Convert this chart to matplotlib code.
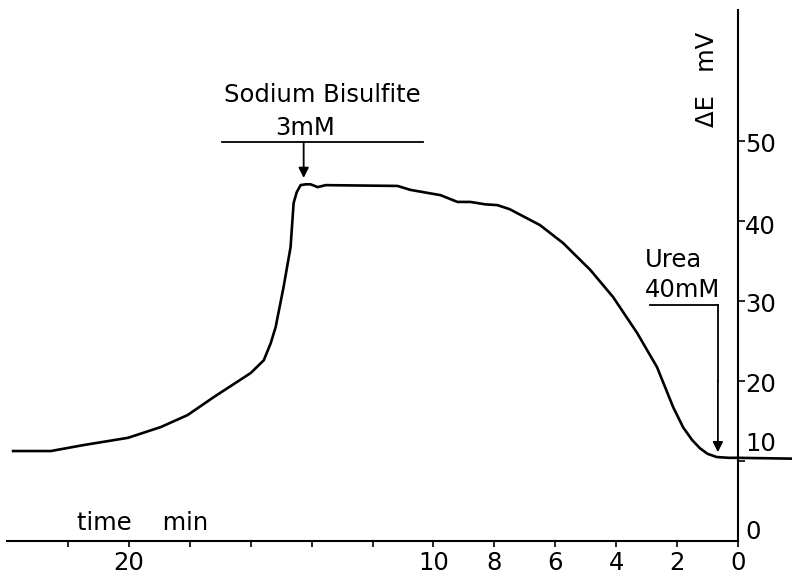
import matplotlib
matplotlib.use('Agg')
import matplotlib.pyplot as plt

# potential change ΔE (mV) against time remaining (min)
time_min = [23.8, 22.56, 21.48, 20.03, 18.95, 18.07, 17.21, 16.0, 15.57,
            15.34, 15.18, 14.92, 14.69, 14.59, 14.49, 14.36, 14.2, 14.03, 13.8,
            13.54, 11.18, 10.75, 9.77, 9.21, 8.79, 8.3, 7.9, 7.5, 6.5, 5.74,
            4.85, 4.1, 3.31, 2.66, 2.13, 1.8, 1.5, 1.25, 1.0, 0.7, 0.3, 0.0, -1.75]
delta_e = [11.25, 11.25, 12.0, 12.9, 14.25, 15.75, 18.0, 21.0, 22.6,
           24.75, 26.75, 31.75, 36.75, 42.25, 43.6, 44.5, 44.6, 44.6, 44.25,
           44.5, 44.4, 43.9, 43.25, 42.4, 42.4, 42.1, 42.0, 41.5, 39.5, 37.25,
           33.9, 30.5, 26.0, 21.75, 16.75, 14.2, 12.6, 11.6, 10.9, 10.5, 10.4, 10.4, 10.3]

xticks = [22, 20, 18, 16, 14, 12, 10, 8, 6, 4, 2, 0]
xtick_labels = ['', '20', '', '', '', '', '10', '8', '6', '4', '2', '0']
yticks = [10, 20, 30, 40, 50]
ylabel_values = [0, 10, 20, 30, 40, 50]
ytick_labels = ['0', '10', '20', '30', '40', '50']

FS = 17.5

plt.rcParams['font.family'] = 'DejaVu Sans'
plt.rcParams['font.size'] = FS

fig = plt.figure(figsize=(7.92, 5.79), dpi=100)
ax = fig.add_axes([7 / 792, 38 / 579, 731 / 792, 531 / 579])

ax.plot(time_min, delta_e, color='black', lw=1.9, clip_on=False,
        solid_joinstyle='round')

ax.set_xlim(24, 0)
ax.set_ylim(0, 66.4)

for side in ['top', 'left']:
    ax.spines[side].set_visible(False)
for side in ['bottom', 'right']:
    ax.spines[side].set_linewidth(1.5)

ax.set_xticks(xticks)
ax.set_xticklabels(xtick_labels)
ax.tick_params(axis='x', direction='out', length=4, width=1.2, pad=3, labelsize=FS)

ax.yaxis.tick_right()
ax.set_yticks(yticks)
ax.set_yticklabels([])
ax.tick_params(axis='y', direction='out', length=5, width=1.2)

# y tick labels; "10" and "0" sit above their level
yoffsets = [6.5, 12, -3, -3, -4, -3]
for val, lab, dy in zip(ylabel_values, ytick_labels, yoffsets):
    ax.annotate(lab, xy=(1, val), xycoords=ax.get_yaxis_transform(),
                xytext=(5, dy), textcoords='offset points',
                ha='left', va='center', fontsize=FS)

ax.text(0.958, 0.87, 'ΔE   mV', transform=ax.transAxes, rotation=90,
        ha='center', va='center', fontsize=FS)
ax.text(0.096, 0.021, 'time    min', transform=ax.transAxes,
        ha='left', va='baseline', fontsize=FS)

arrow = dict(arrowstyle='-|>', color='black', lw=1.3, mutation_scale=15,
             shrinkA=0, shrinkB=0)

# sodium bisulfite addition
ax.plot([16.95, 10.33], [49.9, 49.9], color='black', lw=1.3)
ax.annotate('', xy=(14.26, 45.4), xytext=(14.26, 49.9), arrowprops=arrow)
ax.text(13.64, 54.9, 'Sodium Bisulfite', ha='center', va='baseline', fontsize=FS)
ax.text(14.23, 50.8, '3mM', ha='center', va='baseline', fontsize=FS)

# urea addition
ax.plot([2.89, 0.66], [29.5, 29.5], color='black', lw=1.3)
ax.plot([0.66, 0.66], [29.5, 20.0], color='black', lw=1.3)
ax.annotate('', xy=(0.66, 11.1), xytext=(0.66, 20.0), arrowprops=arrow)
ax.text(3.05, 34.3, 'Urea', ha='left', va='baseline', fontsize=FS)
ax.text(3.05, 30.5, '40mM', ha='left', va='baseline', fontsize=FS)

fig.savefig('out.png', dpi=100)
